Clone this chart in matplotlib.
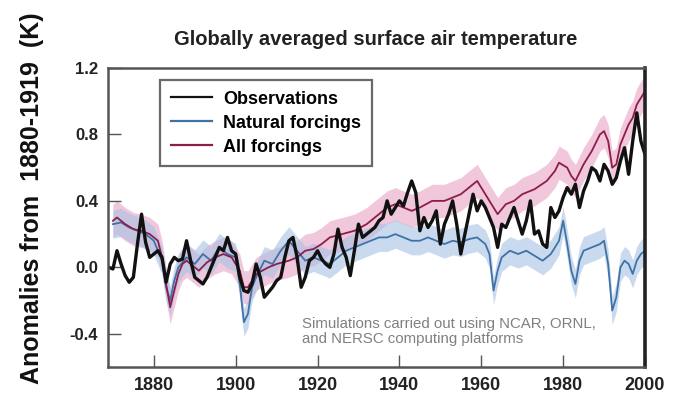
import matplotlib
matplotlib.use("Agg")
import matplotlib.pyplot as plt
from matplotlib.lines import Line2D

plt.rcParams['font.family'] = ['Liberation Sans', 'DejaVu Sans']

# observed global mean anomaly (K)
obs_years = list(range(1869, 2001))
obs_vals = [
    0.00, -0.01, 0.10, 0.02, -0.05, -0.09, -0.06, 0.14, 0.32, 0.15,   # 1869-1878
    0.06, 0.08, 0.10, 0.06, -0.09, 0.02, 0.06, 0.04, 0.05, 0.16,      # 1879-1888
    0.04, -0.06, -0.08, -0.10, -0.06, 0.00, 0.06, 0.12, 0.10, 0.18,   # 1889-1898
    0.10, 0.08, -0.06, -0.14, -0.15, -0.10, 0.02, -0.06, -0.18, -0.15,  # 1899-1908
    -0.12, -0.08, -0.06, 0.06, 0.16, 0.18, 0.06, -0.12, -0.06, 0.04,  # 1909-1918
    0.06, 0.10, 0.05, 0.02, 0.00, 0.08, 0.23, 0.12, 0.06, -0.05,      # 1919-1928
    0.10, 0.26, 0.18, 0.20, 0.22, 0.24, 0.28, 0.30, 0.40, 0.32,       # 1929-1938
    0.36, 0.40, 0.37, 0.45, 0.52, 0.45, 0.22, 0.30, 0.24, 0.28,       # 1939-1948
    0.34, 0.14, 0.26, 0.32, 0.40, 0.26, 0.08, 0.20, 0.32, 0.44,       # 1949-1958
    0.34, 0.40, 0.36, 0.30, 0.24, 0.12, 0.26, 0.24, 0.30, 0.36,       # 1959-1968
    0.28, 0.20, 0.28, 0.40, 0.20, 0.22, 0.14, 0.12, 0.36, 0.30,       # 1969-1978
    0.34, 0.42, 0.48, 0.44, 0.50, 0.36, 0.46, 0.52, 0.60, 0.58,       # 1979-1988
    0.52, 0.62, 0.58, 0.50, 0.54, 0.64, 0.72, 0.56, 0.76, 0.93,       # 1989-1998
    0.76, 0.68,                                                       # 1999-2000
]

# ensemble mean, all forcings
all_years = [1870, 1871, 1873, 1875, 1877, 1879, 1881, 1882, 1883, 1884, 1885,
             1886, 1887, 1888, 1890, 1891, 1893, 1895, 1897, 1899, 1901, 1902,
             1903, 1905, 1908, 1910, 1913, 1915, 1917, 1919, 1921, 1923, 1926,
             1929, 1932, 1935, 1937, 1939, 1941, 1943, 1945, 1948, 1951, 1955,
             1957, 1959, 1961, 1963, 1964, 1966, 1968, 1970, 1973, 1976, 1978,
             1979, 1981, 1982, 1983, 1985, 1987, 1989, 1990, 1991, 1992, 1993,
             1994, 1996, 1997, 1998, 1999, 2000]
all_vals = [0.28, 0.30, 0.26, 0.23, 0.22, 0.20, 0.16, 0.06, -0.10, -0.24, -0.14,
            -0.04, 0.02, 0.04, 0.00, -0.02, 0.03, 0.06, 0.08, 0.06, -0.02, -0.12,
            -0.12, -0.04, 0.00, 0.02, 0.04, 0.06, 0.10, 0.11, 0.14, 0.18, 0.20,
            0.22, 0.26, 0.32, 0.36, 0.38, 0.36, 0.34, 0.36, 0.40, 0.40, 0.44,
            0.48, 0.52, 0.44, 0.36, 0.32, 0.38, 0.40, 0.44, 0.47, 0.52, 0.58,
            0.63, 0.60, 0.55, 0.52, 0.62, 0.70, 0.80, 0.82, 0.76, 0.60, 0.62,
            0.74, 0.86, 0.90, 0.98, 1.02, 1.06]

# ensemble mean, natural forcings only
nat_years = [1870, 1872, 1874, 1876, 1878, 1880, 1882, 1883, 1884, 1885, 1886,
             1888, 1890, 1892, 1894, 1896, 1898, 1900, 1901, 1902, 1903, 1904,
             1905, 1907, 1909, 1911, 1913, 1915, 1917, 1919, 1921, 1923, 1925,
             1927, 1929, 1931, 1933, 1935, 1937, 1939, 1941, 1943, 1945, 1947,
             1949, 1951, 1953, 1955, 1957, 1959, 1961, 1962, 1963, 1964, 1965,
             1967, 1969, 1971, 1973, 1975, 1977, 1979, 1980, 1981, 1982, 1983,
             1984, 1985, 1987, 1989, 1990, 1991, 1992, 1993, 1994, 1995, 1996,
             1997, 1998, 1999, 2000]
nat_vals = [0.26, 0.27, 0.24, 0.22, 0.20, 0.16, 0.04, -0.12, -0.20, -0.08, 0.00,
            0.06, 0.02, 0.08, 0.04, 0.12, 0.08, 0.06, -0.10, -0.33, -0.28, -0.12,
            -0.06, 0.04, 0.02, 0.10, 0.16, 0.10, 0.04, 0.06, 0.04, 0.02, 0.06,
            0.10, 0.12, 0.14, 0.16, 0.18, 0.18, 0.20, 0.18, 0.16, 0.16, 0.18,
            0.16, 0.14, 0.16, 0.15, 0.17, 0.18, 0.14, 0.08, -0.14, -0.02, 0.06,
            0.10, 0.08, 0.10, 0.07, 0.04, 0.08, 0.16, 0.28, 0.14, -0.02, -0.10,
            0.04, 0.10, 0.12, 0.14, 0.16, 0.02, -0.26, -0.18, 0.00, 0.04, 0.02,
            -0.04, 0.04, 0.08, 0.10]

# half-width of the ensemble spread
all_spread = 0.10
nat_spread = 0.085

fig = plt.figure(figsize=(6.77, 3.97), dpi=100)
ax = fig.add_axes([0.1595, 0.0756, 0.7932, 0.7531])

ax.fill_between(all_years, [v - all_spread for v in all_vals],
                [v + all_spread for v in all_vals],
                color='#e7a2c3', alpha=0.6, lw=0)
ax.fill_between(nat_years, [v - nat_spread for v in nat_vals],
                [v + nat_spread for v in nat_vals],
                color='#a7c2e4', alpha=0.6, lw=0)
ax.plot(nat_years, nat_vals, color='#3f72a6', lw=1.3)
ax.plot(all_years, all_vals, color='#8e1d4c', lw=1.3)
ax.plot(obs_years, obs_vals, color='#111111', lw=2.4)

ax.set_xlim(1868.8, 2000)
ax.set_ylim(-0.6, 1.2)
ax.set_xticks([1880, 1900, 1920, 1940, 1960, 1980, 2000])
ax.set_yticks([-0.4, 0.0, 0.4, 0.8, 1.2])
ax.set_yticklabels(['-0.4', '0.0', '0.4', '0.8', '1.2'])
ax.tick_params(direction='in', length=9, width=1, color='#555555',
               labelcolor='#222222', pad=7)
ax.tick_params(axis='x', labelsize=13)
ax.tick_params(axis='y', labelsize=12)
for lab in ax.get_xticklabels() + ax.get_yticklabels():
    lab.set_fontweight('bold')

for side in ['left', 'bottom', 'top']:
    ax.spines[side].set_color('#555555')
    ax.spines[side].set_linewidth(1.8)
ax.spines['right'].set_color('#222222')
ax.spines['right'].set_linewidth(2.6)

handles = [Line2D([], [], color='#111111', lw=1.6),
           Line2D([], [], color='#3f72a6', lw=1.6),
           Line2D([], [], color='#8e1d4c', lw=1.6)]
leg = ax.legend(handles, ['Observations', 'Natural forcings', 'All forcings'],
                loc='upper left', bbox_to_anchor=(0.097, 0.96), borderaxespad=0,
                fancybox=False, frameon=True, prop={'weight': 'bold', 'size': 13},
                handlelength=2.3, handletextpad=0.6, labelspacing=0.38,
                borderpad=0.6)
leg.get_frame().set_edgecolor('#444444')
leg.get_frame().set_linewidth(1.6)

ax.text(1916.2, -0.30, 'Simulations carried out using NCAR, ORNL,\nand NERSC computing platforms',
        fontsize=10.8, color='#808080', va='top', ha='left', linespacing=1.1)

fig.text(0.555, 0.9, 'Globally averaged surface air temperature',
         ha='center', va='center', fontsize=14.5, fontweight='bold', color='#222222')
fig.text(0.047, 0.5, 'Anomalies from  1880-1919  (K)', rotation=90,
         ha='center', va='center', fontsize=18, fontweight='bold', color='#111111')

fig.savefig('out.png', dpi=100)
